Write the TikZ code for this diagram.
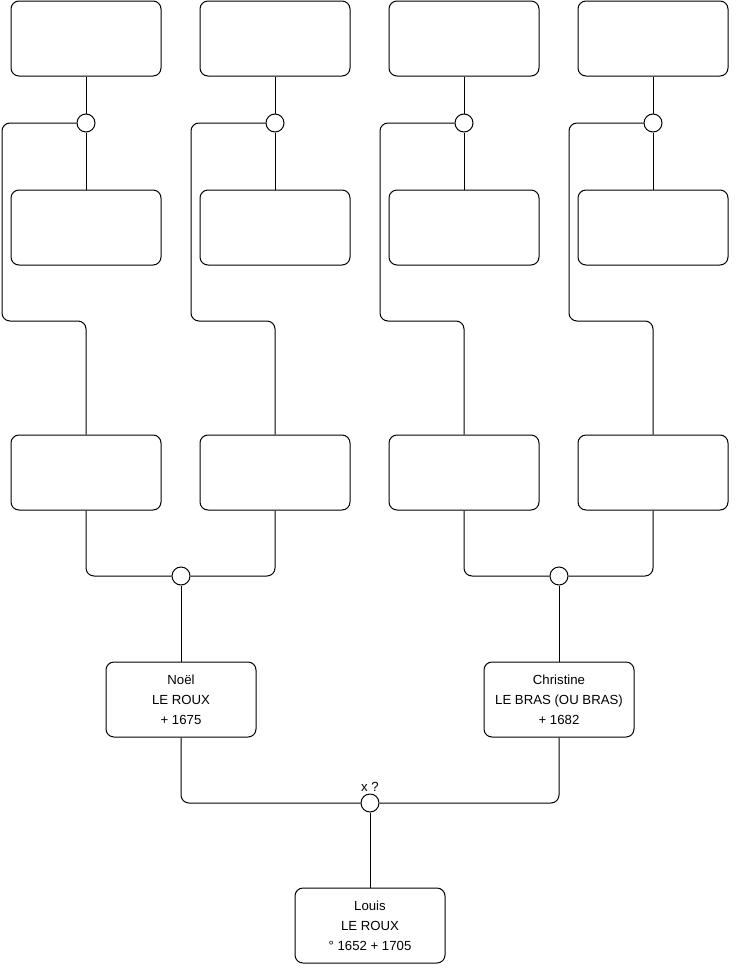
\documentclass[tikz,border=0pt]{standalone}
\usepackage{fontspec}
\setmainfont{Liberation Sans}
\usetikzlibrary{
  positioning,
  calc
}
\tikzset{
  person/.style={
    draw, rounded corners=8pt, minimum width=150pt, minimum height=75pt,
    align=center, font=\fontsize{13.2}{20}\selectfont, line width=1pt
  },
  union/.style={draw, circle, minimum size=18pt, inner sep=0pt, fill=white, line width=1pt},
  link/.style={rounded corners=8pt, line width=1pt},
  tag/.style={font=\fontsize{13.2}{15}\selectfont, inner sep=1pt}
}
\begin{document}
\begin{tikzpicture}[x=1pt, y=-1pt]
  \useasboundingbox (0,0) rectangle (740,975);
  % ancestors, four branches
  \foreach \i/\x in {1/86,2/275,3/464,4/653} {
    \node[person] (t\i) at (\x,38.5) {};
    \node[union] (u\i) at (\x,123) {};
    \node[person] (m\i) at (\x,227.5) {};
    \node[person] (b\i) at (\x,472.5) {};
    \draw[link] (t\i) -- (u\i) -- (m\i);
    \draw[link] (u\i.west) -| ({\x-84},321) -| (b\i.north);
  }
  % parents
  \node[union] (u5) at (181,576) {};
  \node[union] (u6) at (559,576) {};
  \node[person] (noel) at (181,699.5) {Noël\\LE ROUX\\+ 1675};
  \node[person] (christine) at (559,699.5) {Christine\\LE BRAS (OU BRAS)\\+ 1682};
  \draw[link] (b1) |- (u5) -| (b2);
  \draw[link] (b3) |- (u6) -| (b4);
  \draw[link] (u5) -- (noel);
  \draw[link] (u6) -- (christine);
  % child
  \node[union] (u7) at (370,803) {};
  \node[tag, above=1pt of u7] (xq) {x ?};
  \node[person] (louis) at (370,925.5) {Louis\\LE ROUX\\° 1652 + 1705};
  \draw[link] (noel) |- (u7) -| (christine);
  \draw[link] (u7) -- (louis);
\end{tikzpicture}
\end{document}
